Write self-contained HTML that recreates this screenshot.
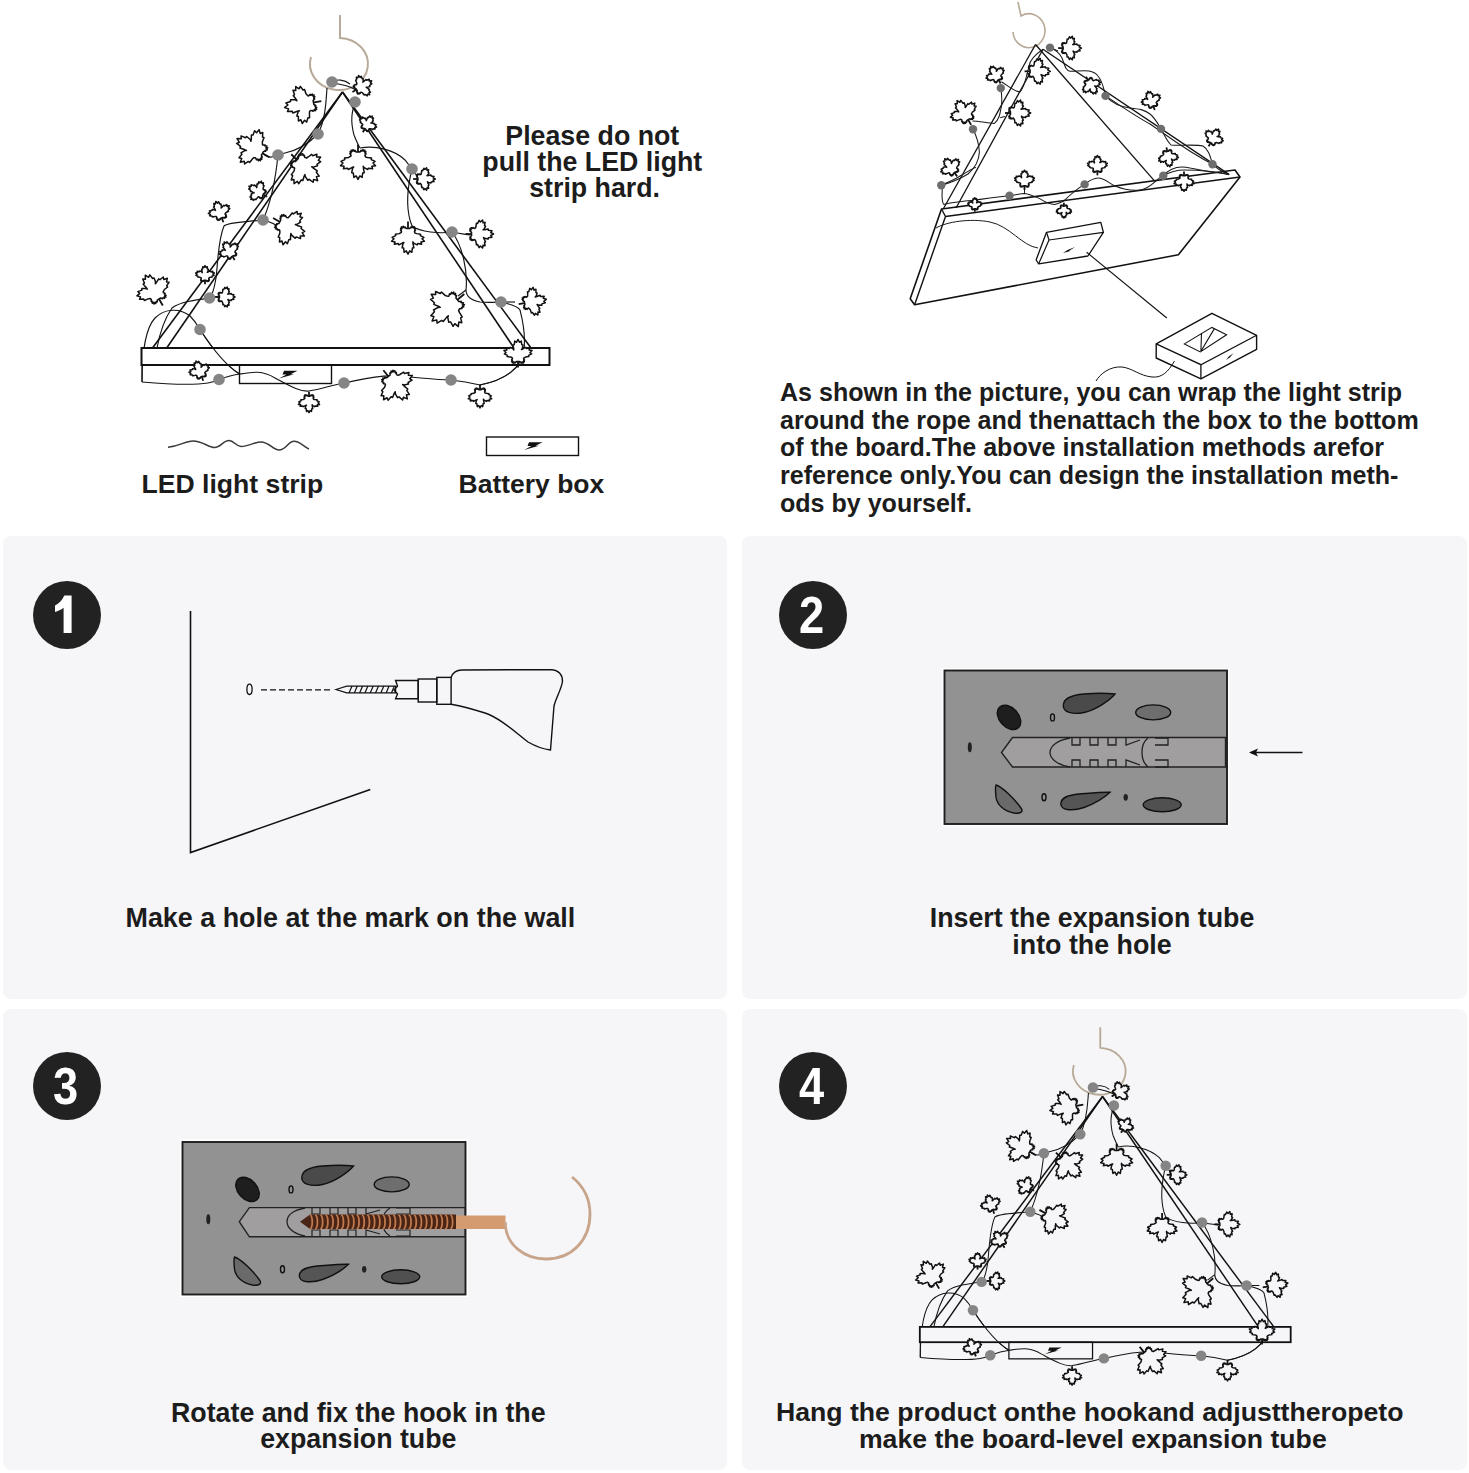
<!DOCTYPE html>
<html><head><meta charset="utf-8"><style>
html,body{margin:0;padding:0;width:1469px;height:1473px;background:#fff;overflow:hidden;font-family:"Liberation Sans",sans-serif;}
.panel{position:absolute;background:#f6f6f8;border-radius:8px;}
.num{position:absolute;width:68px;height:68px;border-radius:50%;background:#222;color:#fff;font-weight:bold;font-size:52px;text-align:center;line-height:68px;}
.t{position:absolute;font-weight:bold;color:#1c1c1c;white-space:nowrap;}
.c{text-align:center;width:800px;}
svg{position:absolute;left:0;top:0;}
</style></head>
<body>
<div class="panel" style="left:3px;top:536px;width:724px;height:463px"></div>
<div class="panel" style="left:742px;top:536px;width:725px;height:463px"></div>
<div class="panel" style="left:3px;top:1009px;width:724px;height:461px"></div>
<div class="panel" style="left:742px;top:1009px;width:725px;height:461px"></div>
<svg width="1469" height="1473" viewBox="0 0 1469 1473">
<defs><g id="lf"><path d="M0,0.25 L0,0.8" stroke="#111" stroke-width="1.8" vector-effect="non-scaling-stroke"/><path d="M-0.270,-0.322 L-0.279,-0.427 L-0.323,-0.650 L-0.242,-0.666 L-0.210,-0.897 L-0.095,-0.818 L0.000,-1.000 L0.095,-0.818 L0.210,-0.897 L0.242,-0.666 L0.323,-0.650 L0.279,-0.427 L0.223,-0.356 L0.313,-0.389 L0.500,-0.489 L0.536,-0.419 L0.751,-0.455 L0.714,-0.327 L0.904,-0.294 L0.770,-0.155 L0.875,-0.073 L0.680,0.024 L0.692,0.102 L0.481,0.131 L0.367,0.204 L0.354,0.233 L0.415,0.322 L0.366,0.329 L0.409,0.429 L0.337,0.412 L0.356,0.508 L0.272,0.457 L0.264,0.531 L0.184,0.456 L0.161,0.500 L0.098,0.412 L-0.066,0.415 L-0.098,0.412 L-0.161,0.500 L-0.184,0.456 L-0.264,0.531 L-0.272,0.457 L-0.356,0.508 L-0.337,0.412 L-0.409,0.429 L-0.366,0.329 L-0.415,0.322 L-0.354,0.233 L-0.389,0.157 L-0.481,0.131 L-0.692,0.102 L-0.680,0.024 L-0.875,-0.073 L-0.770,-0.155 L-0.904,-0.294 L-0.714,-0.327 L-0.751,-0.455 L-0.536,-0.419 L-0.500,-0.489 L-0.313,-0.389Z" stroke="#111" stroke-width="1.5" vector-effect="non-scaling-stroke" stroke-linejoin="round"/></g></defs>
<g fill="#fff"><path d="M340,15 L340,38 A29,26 0 1 1 311,57" fill="none" stroke="#b8aa98" stroke-width="2"/>
<path d="M332,83 C340,84 350,86 356,90" fill="none" stroke="#151515" stroke-width="1.15"/>
<path d="M327,88 C326,100 326,118 318,134" fill="none" stroke="#151515" stroke-width="1.15"/>
<path d="M318,134 C310,142 300,150 285,153 L278,155" fill="none" stroke="#151515" stroke-width="1.15"/>
<path d="M278,155 C272,158 266,158 262,152" fill="none" stroke="#151515" stroke-width="1.15"/>
<path d="M278,155 C276,175 272,200 263,220" fill="none" stroke="#151515" stroke-width="1.15"/>
<path d="M263,220 C270,222 276,224 280,228" fill="none" stroke="#151515" stroke-width="1.15"/>
<path d="M263,220 C245,222 228,222 224,226 C218,240 218,262 216,278 C214,290 212,296 209.5,298" fill="none" stroke="#151515" stroke-width="1.15"/>
<path d="M209.5,298 C195,300 180,302 172,308 C165,318 160,332 157,348" fill="none" stroke="#151515" stroke-width="1.15"/>
<path d="M209.5,298 C214,297 217,296 219,297" fill="none" stroke="#151515" stroke-width="1.15"/>
<path d="M142,382 C142,360 144,330 155,318 C165,308 180,308 190,316 C196,322 198,326 200,329.5 C210,345 225,365 239.5,374" fill="none" stroke="#151515" stroke-width="1.15"/>
<path d="M142,382 C165,384 195,385 208,383 C214,382 216,381 219,379.5 C226,377 233,375 240,374 C252,372 262,370 275,378 C290,386 300,392 309,391 C322,389 332,385 344,383 C360,380 375,375 395,376 C415,377 435,380 451,380 C462,381 472,383 480,385 C505,380 522,368 524,350 C526,332 522,318 520,310 C518,306 510,304 501,302" fill="none" stroke="#151515" stroke-width="1.15"/>
<path d="M355,102 C352,112 350,120 354,135 C356,140 358,145 360,148" fill="none" stroke="#151515" stroke-width="1.15"/>
<path d="M360,148 C375,145 395,150 405,160 L412,169" fill="none" stroke="#151515" stroke-width="1.15"/>
<path d="M412,169 C416,174 418,178 420,180" fill="none" stroke="#151515" stroke-width="1.15"/>
<path d="M412,169 C408,185 406,205 410,220 L412,226" fill="none" stroke="#151515" stroke-width="1.15"/>
<path d="M412,226 C420,232 440,234 452,232" fill="none" stroke="#151515" stroke-width="1.15"/>
<path d="M452,232 C460,234 466,234 470,235" fill="none" stroke="#151515" stroke-width="1.15"/>
<path d="M452,232 C462,245 468,270 466,290 C466,296 470,300 480,302 C490,303 496,302 501,302" fill="none" stroke="#151515" stroke-width="1.15"/>
<path d="M466,290 L458,296" fill="none" stroke="#151515" stroke-width="1.15"/>
<path d="M501,302 L515,302" fill="none" stroke="#151515" stroke-width="1.15"/>
<path d="M332,83 C336,78 345,80 350,84" fill="none" stroke="#151515" stroke-width="1.15"/>
<line x1="342.5" y1="92" x2="152.5" y2="348" stroke="#111" stroke-width="1.6"/>
<line x1="342.5" y1="92" x2="166.7" y2="348" stroke="#111" stroke-width="1.6"/>
<line x1="342.5" y1="92" x2="531" y2="348" stroke="#111" stroke-width="1.6"/>
<line x1="342.5" y1="92" x2="514" y2="348" stroke="#111" stroke-width="1.6"/>
<rect x="141.5" y="348" width="408" height="17" stroke="#111" stroke-width="2"/>
<rect x="239.5" y="365" width="92" height="18.5" fill="none" stroke="#111" stroke-width="1.4"/>
<path d="M284,370.8 L297.5,370.8 L290.5,374.3 L294,374.3 L279,378.5 L286.5,374.5 L282.5,374.5 Z" fill="#111"/>
<path d="M200,329.5 C210,345 225,365 239.5,374" fill="none" stroke="#151515" stroke-width="1.15"/>
<path d="M142,365 L142,382" fill="none" stroke="#151515" stroke-width="1.15"/>
<path d="M480,385 C505,380 522,368 524,350" fill="none" stroke="#151515" stroke-width="1.15"/>
<use href="#lf" transform="translate(361.0,87.0) rotate(60) scale(12.32)"/>
<use href="#lf" transform="translate(305.0,104.0) rotate(-100) scale(20.76)"/>
<use href="#lf" transform="translate(367.0,125.0) rotate(30) scale(10.38)"/>
<use href="#lf" transform="translate(255.0,149.0) rotate(-60) scale(20.76)"/>
<use href="#lf" transform="translate(303.0,166.0) rotate(135) scale(20.76)"/>
<use href="#lf" transform="translate(358.0,160.0) rotate(180) scale(19.46)"/>
<use href="#lf" transform="translate(423.0,179.0) rotate(90) scale(12.32)"/>
<use href="#lf" transform="translate(259.0,192.0) rotate(-60) scale(11.68)"/>
<use href="#lf" transform="translate(287.0,226.0) rotate(120) scale(20.11)"/>
<use href="#lf" transform="translate(220.0,213.0) rotate(-20) scale(12.32)"/>
<use href="#lf" transform="translate(230.0,252.0) rotate(-30) scale(11.68)"/>
<use href="#lf" transform="translate(205.0,276.0) rotate(0) scale(10.38)"/>
<use href="#lf" transform="translate(408.0,236.0) rotate(180) scale(18.16)"/>
<use href="#lf" transform="translate(478.0,234.0) rotate(90) scale(15.57)"/>
<use href="#lf" transform="translate(155.0,292.0) rotate(-30) scale(19.46)"/>
<use href="#lf" transform="translate(224.0,297.0) rotate(90) scale(11.03)"/>
<use href="#lf" transform="translate(450.0,306.0) rotate(-130) scale(23.35)"/>
<use href="#lf" transform="translate(531.0,302.0) rotate(80) scale(15.57)"/>
<use href="#lf" transform="translate(518.0,355.0) rotate(0) scale(15.57)"/>
<use href="#lf" transform="translate(200.0,372.0) rotate(-20) scale(11.68)"/>
<use href="#lf" transform="translate(309.0,401.0) rotate(180) scale(11.68)"/>
<use href="#lf" transform="translate(394.0,383.0) rotate(140) scale(20.76)"/>
<use href="#lf" transform="translate(480.0,395.0) rotate(180) scale(12.97)"/>
<circle cx="332.0" cy="82.0" r="5.8" fill="#858585"/>
<circle cx="355.0" cy="102.0" r="5.8" fill="#858585"/>
<circle cx="318.0" cy="134.0" r="5.8" fill="#858585"/>
<circle cx="278.0" cy="155.0" r="5.8" fill="#858585"/>
<circle cx="263.0" cy="220.0" r="5.8" fill="#858585"/>
<circle cx="209.5" cy="298.0" r="5.8" fill="#858585"/>
<circle cx="200.0" cy="329.5" r="5.8" fill="#858585"/>
<circle cx="219.0" cy="379.5" r="5.8" fill="#858585"/>
<circle cx="344.0" cy="383.0" r="5.8" fill="#858585"/>
<circle cx="451.0" cy="380.0" r="5.8" fill="#858585"/>
<circle cx="412.0" cy="169.0" r="5.8" fill="#858585"/>
<circle cx="452.0" cy="232.0" r="5.8" fill="#858585"/>
<circle cx="501.0" cy="302.0" r="5.8" fill="#858585"/></g>
<path d="M168,447.3 C180,446 185,441 193,441 C203,441 208,447.5 214.5,447.5 C221,447.5 223,440.5 229,440.5 C234,440.5 236,446.5 241,446.5 C248,446.5 255,442 261,442 C269,442 273,450 279,450 C286,450 288,441.3 294,441.3 C300,441.3 304,447 309,449" fill="none" stroke="#3a3a3a" stroke-width="1.5"/>
<rect x="486.5" y="437" width="92" height="18.5" fill="#fff" stroke="#111" stroke-width="1.4"/>
<path d="M529,442.3 L542.5,442.3 L535.5,445.8 L539,445.8 L524,450 L531.5,446 L527.5,446 Z" fill="#111"/>
<g fill="#fff"><path d="M1018,2 L1021,16 A16,17 0 1 1 1013,32" fill="none" stroke="#b8aa98" stroke-width="1.6"/>
<path d="M941.5,209 L1235,170 L1240,177 L1178.4,254.8 L914.6,304.7 L910.2,298.7 Z" fill="#fff" stroke="#111" stroke-width="1.6" stroke-linejoin="round"/>
<path d="M945.5,216.5 L1240,177 M945.5,216.5 L914.6,304.7 M941.5,209 L945.5,216.5" fill="none" stroke="#111" stroke-width="1.4"/>
<path d="M936,228 C946,222 970,218 990,222 C1010,226 1022,246 1038,248" fill="none" stroke="#1a1a1a" stroke-width="1"/>
<path d="M1046.5,232.3 L1100.8,222.4 L1103.4,232.3 L1087.9,256 L1038.7,263.8 L1036.1,260 Z" fill="#fff" stroke="#111" stroke-width="1.3" stroke-linejoin="round"/>
<path d="M1049,240 L1103.4,232.3 M1049,240 L1038.7,263.8 M1046.5,232.3 L1049,240" fill="none" stroke="#111" stroke-width="1.2"/>
<path d="M1063,253 L1069,249 L1067.5,250 L1075,247 L1069,251 L1070.5,251 Z" fill="#111"/>
<line x1="1086.6" y1="252.2" x2="1166.8" y2="318" stroke="#111" stroke-width="1.1"/>
<path d="M1156.2,343.9 L1211.9,313.3 L1256.6,335.3 L1256.6,349.4 L1200.9,378.8 L1156.2,358 Z" fill="#fff" stroke="#111" stroke-width="1.4" stroke-linejoin="round"/>
<path d="M1156.2,343.9 L1200.9,364.7 L1256.6,335.3 M1200.9,364.7 L1200.9,378.8" fill="none" stroke="#111" stroke-width="1.3"/>
<path d="M1184.4,343.9 L1211.9,327.4 L1226.6,334.7 L1200.3,351.9 Z M1201.5,332.9 L1200.9,351.3 L1214.4,328.6" fill="none" stroke="#111" stroke-width="1.1"/>
<path d="M1226,360 L1230,355 L1229,356.5 L1233.5,353 L1229.5,358 L1230.5,357 Z" fill="#111"/>
<path d="M1174.5,361 C1168,372 1162,378 1152,377 C1140,376 1132,368 1122,367 C1110,366 1100,374 1096,381" fill="none" stroke="#111" stroke-width="1"/>
<line x1="1035.5" y1="44.5" x2="943.2" y2="209" stroke="#111" stroke-width="1.3"/>
<line x1="1043" y1="49.3" x2="956" y2="208" stroke="#111" stroke-width="1.3"/>
<line x1="1035.5" y1="44.5" x2="1154" y2="180.4" stroke="#111" stroke-width="1.3"/>
<line x1="1043" y1="49.3" x2="1229.3" y2="174.6" stroke="#111" stroke-width="1.3"/>
<path d="M1050,47.6 C1056,50 1060,54 1062,58 C1065,66 1066,71 1070,71.3 C1080,71.5 1092,68 1098,76 C1103,82 1104,90 1105.5,95.9" fill="none" stroke="#1a1a1a" stroke-width="1.05"/>
<path d="M1050,47.6 L1058,51" fill="none" stroke="#1a1a1a" stroke-width="1.05"/>
<path d="M1105.5,95.9 C1112,103 1120,107 1130,108 C1140,109 1145,110 1150,114 C1155,118 1158,124 1161,128.9 C1164,134 1166,140 1171,145 C1180,146 1195,144 1203,146 C1208,149 1210,155 1212.5,164.2 C1216,168 1220,171 1229,174.6" fill="none" stroke="#1a1a1a" stroke-width="1.05"/>
<path d="M1105.5,95.9 C1118,104 1135,116 1150,124 C1165,134 1185,150 1212.5,164.2" fill="none" stroke="#1a1a1a" stroke-width="1.05"/>
<path d="M1084.6,184.4 C1090,180 1094,178 1098,178 C1105,178 1110,184 1115,186 C1125,190 1132,191 1140,190 C1148,189 1152,184 1156,181 C1159,178 1161,176.5 1163.3,175.7 C1168,173 1174,170 1184,170 C1200,170 1218,172 1229,174.6" fill="none" stroke="#1a1a1a" stroke-width="1.05"/>
<path d="M1163.3,175.7 C1170,168 1178,165 1190,168 C1205,171 1220,173 1229,174.6" fill="none" stroke="#1a1a1a" stroke-width="1.05"/>
<path d="M1043,49.3 C1036,54 1030,60 1029,66 C1027,75 1024,88 1020,92 C1015,92 1008,86 1001.4,81.7" fill="none" stroke="#1a1a1a" stroke-width="1.05"/>
<path d="M1036,71.3 L1026.3,74.2" fill="none" stroke="#1a1a1a" stroke-width="1.05"/>
<path d="M1000.8,88.1 C1002,96 1002,102 1001.4,106 C1000,114 999,120 994.4,123.4 C988,123 978,121 972.4,121" fill="none" stroke="#1a1a1a" stroke-width="1.05"/>
<path d="M1004.9,116.4 C1001,117 1000,118 1000,118" fill="none" stroke="#1a1a1a" stroke-width="1.05"/>
<path d="M973,129.2 C976,135 979,143 979.4,152.3 C979,160 975,168 968,174 C958,180 950,183 941.3,185.2" fill="none" stroke="#1a1a1a" stroke-width="1.05"/>
<path d="M941.3,185.2 C944,188 940,196 943.5,204.4" fill="none" stroke="#1a1a1a" stroke-width="1.05"/>
<path d="M943.5,204.4 C955,202 965,201 973.6,200.3 C990,198 1000,196.5 1009.5,195.7 C1016,195 1020,193.5 1024.5,193.4 C1030,194 1034,196 1039.6,198.6 C1045,202 1050,204.4 1054.6,204.4 C1058,204 1061,202 1063.9,200.9 C1070,195 1078,188 1084.6,184.4" fill="none" stroke="#1a1a1a" stroke-width="1.05"/>
<path d="M941.3,185.2 C948,182 954,180 960,176 C968,172 972,168 976,167.4" fill="none" stroke="#1a1a1a" stroke-width="1.05"/>
<path d="M1024.5,193.4 L1024.5,186" fill="none" stroke="#1a1a1a" stroke-width="1.05"/>
<use href="#lf" transform="translate(1068.5,48.1) rotate(90) scale(12.97)"/>
<use href="#lf" transform="translate(996.2,75.9) rotate(-30) scale(11.03)"/>
<use href="#lf" transform="translate(1036.0,71.3) rotate(90) scale(14.27)"/>
<use href="#lf" transform="translate(964.9,114.1) rotate(-30) scale(15.57)"/>
<use href="#lf" transform="translate(1016.4,113.0) rotate(90) scale(14.27)"/>
<use href="#lf" transform="translate(951.6,168.5) rotate(-35) scale(12.00)"/>
<use href="#lf" transform="translate(1024.5,181.2) rotate(0) scale(11.03)"/>
<use href="#lf" transform="translate(1097.4,166.5) rotate(0) scale(11.03)"/>
<use href="#lf" transform="translate(1151.7,101.7) rotate(-20) scale(11.03)"/>
<use href="#lf" transform="translate(1090.4,84.3) rotate(150) scale(11.03)"/>
<use href="#lf" transform="translate(1168.0,156.0) rotate(170) scale(11.03)"/>
<use href="#lf" transform="translate(1213.0,138.7) rotate(30) scale(11.03)"/>
<use href="#lf" transform="translate(1184.0,180.4) rotate(180) scale(11.03)"/>
<use href="#lf" transform="translate(1063.9,209.6) rotate(180) scale(8.43)"/>
<use href="#lf" transform="translate(974.8,205.5) rotate(0) scale(7.78)"/>
<circle cx="1050.0" cy="47.6" r="4.2" fill="#6e6e6e"/>
<circle cx="1000.8" cy="88.1" r="4.2" fill="#6e6e6e"/>
<circle cx="973.0" cy="129.2" r="4.2" fill="#6e6e6e"/>
<circle cx="941.3" cy="185.2" r="4.2" fill="#6e6e6e"/>
<circle cx="1009.5" cy="195.7" r="4.2" fill="#6e6e6e"/>
<circle cx="1084.6" cy="184.4" r="4.2" fill="#6e6e6e"/>
<circle cx="1105.5" cy="95.9" r="4.2" fill="#6e6e6e"/>
<circle cx="1161.0" cy="128.9" r="4.2" fill="#6e6e6e"/>
<circle cx="1212.5" cy="164.2" r="4.2" fill="#6e6e6e"/>
<circle cx="1163.3" cy="175.7" r="4.2" fill="#6e6e6e"/></g>
<path d="M190.5,611 L190.5,852.5 L370.3,789.5" fill="none" stroke="#111" stroke-width="1.6"/>
<ellipse cx="249.5" cy="689.3" rx="2.6" ry="5.2" fill="none" stroke="#111" stroke-width="1.3"/>
<line x1="261" y1="689.8" x2="332" y2="689.8" stroke="#111" stroke-width="1.3" stroke-dasharray="6,3"/>
<path d="M336,689.5 L346.7,686.2 L395.6,686.2 L395.6,692.9 L346.7,692.9 Z" fill="none" stroke="#111" stroke-width="1.2"/>
<line x1="349.0" y1="693" x2="352.0" y2="686" stroke="#111" stroke-width="1.2"/>
<line x1="354.3" y1="693" x2="357.3" y2="686" stroke="#111" stroke-width="1.2"/>
<line x1="359.6" y1="693" x2="362.6" y2="686" stroke="#111" stroke-width="1.2"/>
<line x1="364.9" y1="693" x2="367.9" y2="686" stroke="#111" stroke-width="1.2"/>
<line x1="370.2" y1="693" x2="373.2" y2="686" stroke="#111" stroke-width="1.2"/>
<line x1="375.5" y1="693" x2="378.5" y2="686" stroke="#111" stroke-width="1.2"/>
<line x1="380.8" y1="693" x2="383.8" y2="686" stroke="#111" stroke-width="1.2"/>
<line x1="386.1" y1="693" x2="389.1" y2="686" stroke="#111" stroke-width="1.2"/>
<line x1="391.4" y1="693" x2="394.4" y2="686" stroke="#111" stroke-width="1.2"/>
<path d="M395.6,680.5 L418.2,680.5 L418.2,698.8 L395.6,698.8 L397.5,694 L394,690 L397.5,686 Z" fill="none" stroke="#111" stroke-width="1.4"/>
<rect x="418.2" y="679" width="18.6" height="23" fill="none" stroke="#111" stroke-width="1.4"/>
<rect x="436.8" y="677.4" width="14.3" height="26.9" fill="none" stroke="#111" stroke-width="1.4"/>
<path d="M451.1,677.4 C453,672 456,670 462,670 L551,669.6 C558,670 563,674 562.4,682 C561,690 556,698 554,706 L550.5,750 C542,749 535,746 528,742 C515,732 500,718 485,713 C472,709 460,706 451.1,704.3" fill="none" stroke="#111" stroke-width="1.4"/>
<rect x="944.5" y="670.5" width="282.5" height="153.5" fill="none" stroke="#fff" stroke-width="5"/>
<rect x="944.5" y="670.5" width="282.5" height="153.5" fill="#939292" stroke="#1e1e1e" stroke-width="1.9"/>
<g transform="translate(944,670)">
<ellipse cx="65" cy="47.4" rx="14" ry="9.5" transform="rotate(48 65 47.4)" fill="#1e1e1e" stroke="#111" stroke-width="1.4"/>
<path d="M119.3,36 C119,28 128,25 140,24 C152,23 162,23 171,24 C166,30 152,40 140,42.5 C128,45 119.5,42 119.3,36 Z" fill="#4a4a4a" stroke="#111" stroke-width="1.4"/>
<ellipse cx="209.2" cy="42.4" rx="17.5" ry="7.5" fill="#6e6e6e" stroke="#111" stroke-width="1.4"/>
<ellipse cx="108.5" cy="47.4" rx="2" ry="3.5" fill="none" stroke="#111" stroke-width="1.4"/>
<ellipse cx="25.8" cy="77.3" rx="2" ry="5" fill="#222"/>
<path d="M52,115 C58,117 70,128 77,138 C80,142 76,144 70,143 C60,141 53,135 52,127 C51.5,122 51,117 52,115 Z" fill="#6a6a6a" stroke="#111" stroke-width="1.4"/>
<ellipse cx="100" cy="127.3" rx="2" ry="3.5" fill="none" stroke="#111" stroke-width="1.4"/>
<path d="M116.8,134 C117,127 125,125 135,124 C148,123 158,122 166,122.3 C160,128 150,134 140,137.5 C130,141 117,141 116.8,134 Z" fill="#555" stroke="#111" stroke-width="1.4"/>
<ellipse cx="181.7" cy="127.3" rx="2.2" ry="3.4" fill="#222"/>
<ellipse cx="218.2" cy="134.8" rx="19" ry="7" fill="#505050" stroke="#111" stroke-width="1.4"/>
</g>
<path d="M1225.5,737.5 L1012.5,737.5 L1001.5,752.5 L1012.5,767 L1225.5,767 Z" fill="#a09e9e" stroke="#222" stroke-width="1.4"/>
<path d="M1070,738 C1058,740 1050,746 1050,752.5 C1050,759 1058,765 1070,767" fill="none" stroke="#222" stroke-width="1.3"/>
<path d="M1072,738 L1072,745 L1080,745 L1080,738 M1072,767 L1072,760 L1080,760 L1080,767" fill="none" stroke="#222" stroke-width="1.3"/>
<path d="M1090,738 L1090,745 L1098,745 L1098,738 M1090,767 L1090,760 L1098,760 L1098,767" fill="none" stroke="#222" stroke-width="1.3"/>
<path d="M1108,738 L1108,745 L1116,745 L1116,738 M1108,767 L1108,760 L1116,760 L1116,767" fill="none" stroke="#222" stroke-width="1.3"/>
<path d="M1126,738 L1126,745 L1140,740 M1126,767 L1126,760 L1140,765 M1148,738 C1140,744 1140,760 1148,767 M1155,738 L1168,738 L1168,745 L1155,745 M1155,767 L1168,767 L1168,760 L1155,760" fill="none" stroke="#222" stroke-width="1.3"/>
<line x1="1251" y1="752.5" x2="1302.5" y2="752.5" stroke="#111" stroke-width="1.3"/>
<path d="M1249,752.5 L1258,748.5 L1256,752.5 L1258,756.5 Z" fill="#111"/>
<rect x="182.5" y="1142" width="283" height="152.5" fill="none" stroke="#fff" stroke-width="5"/>
<rect x="182.5" y="1142" width="283" height="152.5" fill="#939292" stroke="#1e1e1e" stroke-width="1.9"/>
<g transform="translate(182.5,1142)">
<ellipse cx="65" cy="47.4" rx="14" ry="9.5" transform="rotate(48 65 47.4)" fill="#1e1e1e" stroke="#111" stroke-width="1.4"/>
<path d="M119.3,36 C119,28 128,25 140,24 C152,23 162,23 171,24 C166,30 152,40 140,42.5 C128,45 119.5,42 119.3,36 Z" fill="#4a4a4a" stroke="#111" stroke-width="1.4"/>
<ellipse cx="209.2" cy="42.4" rx="17.5" ry="7.5" fill="#6e6e6e" stroke="#111" stroke-width="1.4"/>
<ellipse cx="108.5" cy="47.4" rx="2" ry="3.5" fill="none" stroke="#111" stroke-width="1.4"/>
<ellipse cx="25.8" cy="77.3" rx="2" ry="5" fill="#222"/>
<path d="M52,115 C58,117 70,128 77,138 C80,142 76,144 70,143 C60,141 53,135 52,127 C51.5,122 51,117 52,115 Z" fill="#6a6a6a" stroke="#111" stroke-width="1.4"/>
<ellipse cx="100" cy="127.3" rx="2" ry="3.5" fill="none" stroke="#111" stroke-width="1.4"/>
<path d="M116.8,134 C117,127 125,125 135,124 C148,123 158,122 166,122.3 C160,128 150,134 140,137.5 C130,141 117,141 116.8,134 Z" fill="#555" stroke="#111" stroke-width="1.4"/>
<ellipse cx="181.7" cy="127.3" rx="2.2" ry="3.4" fill="#222"/>
<ellipse cx="218.2" cy="134.8" rx="19" ry="7" fill="#505050" stroke="#111" stroke-width="1.4"/>
</g>
<path d="M465,1207.6 L249.4,1207.6 L239.3,1221.7 L249.4,1236.8 L465,1236.8 Z" fill="#a09e9e" stroke="#222" stroke-width="1.4"/>
<path d="M305,1208 C294,1210 287,1215 287,1221.7 C287,1228 294,1234 305,1236" fill="none" stroke="#222" stroke-width="1.3"/>
<path d="M312,1208 L312,1214 L320,1214 L320,1208 M312,1236 L312,1230 L320,1230 L320,1236" fill="none" stroke="#222" stroke-width="1.2"/>
<path d="M330,1208 L330,1214 L338,1214 L338,1208 M330,1236 L330,1230 L338,1230 L338,1236" fill="none" stroke="#222" stroke-width="1.2"/>
<path d="M348,1208 L348,1214 L356,1214 L356,1208 M348,1236 L348,1230 L356,1230 L356,1236" fill="none" stroke="#222" stroke-width="1.2"/>
<path d="M366,1208 L366,1214 L380,1210 M366,1236 L366,1230 L380,1234 M390,1208 C380,1214 380,1230 390,1236 M396,1208 L410,1208 L410,1214 L396,1214 M396,1236 L410,1236 L410,1230 L396,1230" fill="none" stroke="#222" stroke-width="1.2"/>
<path d="M300,1221.7 L310,1214.5 L456,1214.5 L456,1229 L310,1229 Z" fill="#4a2414"/>
<path d="M310.0,1215 C313.0,1216 313.0,1228 310.0,1229" fill="none" stroke="#c07a50" stroke-width="1.8"/>
<path d="M315.2,1215 C318.2,1216 318.2,1228 315.2,1229" fill="none" stroke="#c07a50" stroke-width="1.8"/>
<path d="M320.4,1215 C323.4,1216 323.4,1228 320.4,1229" fill="none" stroke="#c07a50" stroke-width="1.8"/>
<path d="M325.6,1215 C328.6,1216 328.6,1228 325.6,1229" fill="none" stroke="#c07a50" stroke-width="1.8"/>
<path d="M330.8,1215 C333.8,1216 333.8,1228 330.8,1229" fill="none" stroke="#c07a50" stroke-width="1.8"/>
<path d="M336.0,1215 C339.0,1216 339.0,1228 336.0,1229" fill="none" stroke="#c07a50" stroke-width="1.8"/>
<path d="M341.2,1215 C344.2,1216 344.2,1228 341.2,1229" fill="none" stroke="#c07a50" stroke-width="1.8"/>
<path d="M346.4,1215 C349.4,1216 349.4,1228 346.4,1229" fill="none" stroke="#c07a50" stroke-width="1.8"/>
<path d="M351.6,1215 C354.6,1216 354.6,1228 351.6,1229" fill="none" stroke="#c07a50" stroke-width="1.8"/>
<path d="M356.8,1215 C359.8,1216 359.8,1228 356.8,1229" fill="none" stroke="#c07a50" stroke-width="1.8"/>
<path d="M362.0,1215 C365.0,1216 365.0,1228 362.0,1229" fill="none" stroke="#c07a50" stroke-width="1.8"/>
<path d="M367.2,1215 C370.2,1216 370.2,1228 367.2,1229" fill="none" stroke="#c07a50" stroke-width="1.8"/>
<path d="M372.4,1215 C375.4,1216 375.4,1228 372.4,1229" fill="none" stroke="#c07a50" stroke-width="1.8"/>
<path d="M377.6,1215 C380.6,1216 380.6,1228 377.6,1229" fill="none" stroke="#c07a50" stroke-width="1.8"/>
<path d="M382.8,1215 C385.8,1216 385.8,1228 382.8,1229" fill="none" stroke="#c07a50" stroke-width="1.8"/>
<path d="M388.0,1215 C391.0,1216 391.0,1228 388.0,1229" fill="none" stroke="#c07a50" stroke-width="1.8"/>
<path d="M393.2,1215 C396.2,1216 396.2,1228 393.2,1229" fill="none" stroke="#c07a50" stroke-width="1.8"/>
<path d="M398.4,1215 C401.4,1216 401.4,1228 398.4,1229" fill="none" stroke="#c07a50" stroke-width="1.8"/>
<path d="M403.6,1215 C406.6,1216 406.6,1228 403.6,1229" fill="none" stroke="#c07a50" stroke-width="1.8"/>
<path d="M408.8,1215 C411.8,1216 411.8,1228 408.8,1229" fill="none" stroke="#c07a50" stroke-width="1.8"/>
<path d="M414.0,1215 C417.0,1216 417.0,1228 414.0,1229" fill="none" stroke="#c07a50" stroke-width="1.8"/>
<path d="M419.2,1215 C422.2,1216 422.2,1228 419.2,1229" fill="none" stroke="#c07a50" stroke-width="1.8"/>
<path d="M424.4,1215 C427.4,1216 427.4,1228 424.4,1229" fill="none" stroke="#c07a50" stroke-width="1.8"/>
<path d="M429.6,1215 C432.6,1216 432.6,1228 429.6,1229" fill="none" stroke="#c07a50" stroke-width="1.8"/>
<path d="M434.8,1215 C437.8,1216 437.8,1228 434.8,1229" fill="none" stroke="#c07a50" stroke-width="1.8"/>
<path d="M440.0,1215 C443.0,1216 443.0,1228 440.0,1229" fill="none" stroke="#c07a50" stroke-width="1.8"/>
<path d="M445.2,1215 C448.2,1216 448.2,1228 445.2,1229" fill="none" stroke="#c07a50" stroke-width="1.8"/>
<path d="M450.4,1215 C453.4,1216 453.4,1228 450.4,1229" fill="none" stroke="#c07a50" stroke-width="1.8"/>
<rect x="456" y="1215.5" width="49.5" height="13.5" fill="#d49a70"/>
<path d="M505.3,1222 C505,1245 525,1259 546,1259 C572,1259 590,1240 590,1214 C590,1197 582,1185 572,1177" fill="none" stroke="#c8a48a" stroke-width="2.8"/>
<g fill="#f6f6f8" transform="translate(791.2,1013.7) scale(0.909,0.9)"><path d="M340,15 L340,38 A29,26 0 1 1 311,57" fill="none" stroke="#b8aa98" stroke-width="2"/>
<path d="M332,83 C340,84 350,86 356,90" fill="none" stroke="#151515" stroke-width="1.15"/>
<path d="M327,88 C326,100 326,118 318,134" fill="none" stroke="#151515" stroke-width="1.15"/>
<path d="M318,134 C310,142 300,150 285,153 L278,155" fill="none" stroke="#151515" stroke-width="1.15"/>
<path d="M278,155 C272,158 266,158 262,152" fill="none" stroke="#151515" stroke-width="1.15"/>
<path d="M278,155 C276,175 272,200 263,220" fill="none" stroke="#151515" stroke-width="1.15"/>
<path d="M263,220 C270,222 276,224 280,228" fill="none" stroke="#151515" stroke-width="1.15"/>
<path d="M263,220 C245,222 228,222 224,226 C218,240 218,262 216,278 C214,290 212,296 209.5,298" fill="none" stroke="#151515" stroke-width="1.15"/>
<path d="M209.5,298 C195,300 180,302 172,308 C165,318 160,332 157,348" fill="none" stroke="#151515" stroke-width="1.15"/>
<path d="M209.5,298 C214,297 217,296 219,297" fill="none" stroke="#151515" stroke-width="1.15"/>
<path d="M142,382 C142,360 144,330 155,318 C165,308 180,308 190,316 C196,322 198,326 200,329.5 C210,345 225,365 239.5,374" fill="none" stroke="#151515" stroke-width="1.15"/>
<path d="M142,382 C165,384 195,385 208,383 C214,382 216,381 219,379.5 C226,377 233,375 240,374 C252,372 262,370 275,378 C290,386 300,392 309,391 C322,389 332,385 344,383 C360,380 375,375 395,376 C415,377 435,380 451,380 C462,381 472,383 480,385 C505,380 522,368 524,350 C526,332 522,318 520,310 C518,306 510,304 501,302" fill="none" stroke="#151515" stroke-width="1.15"/>
<path d="M355,102 C352,112 350,120 354,135 C356,140 358,145 360,148" fill="none" stroke="#151515" stroke-width="1.15"/>
<path d="M360,148 C375,145 395,150 405,160 L412,169" fill="none" stroke="#151515" stroke-width="1.15"/>
<path d="M412,169 C416,174 418,178 420,180" fill="none" stroke="#151515" stroke-width="1.15"/>
<path d="M412,169 C408,185 406,205 410,220 L412,226" fill="none" stroke="#151515" stroke-width="1.15"/>
<path d="M412,226 C420,232 440,234 452,232" fill="none" stroke="#151515" stroke-width="1.15"/>
<path d="M452,232 C460,234 466,234 470,235" fill="none" stroke="#151515" stroke-width="1.15"/>
<path d="M452,232 C462,245 468,270 466,290 C466,296 470,300 480,302 C490,303 496,302 501,302" fill="none" stroke="#151515" stroke-width="1.15"/>
<path d="M466,290 L458,296" fill="none" stroke="#151515" stroke-width="1.15"/>
<path d="M501,302 L515,302" fill="none" stroke="#151515" stroke-width="1.15"/>
<path d="M332,83 C336,78 345,80 350,84" fill="none" stroke="#151515" stroke-width="1.15"/>
<line x1="342.5" y1="92" x2="152.5" y2="348" stroke="#111" stroke-width="1.6"/>
<line x1="342.5" y1="92" x2="166.7" y2="348" stroke="#111" stroke-width="1.6"/>
<line x1="342.5" y1="92" x2="531" y2="348" stroke="#111" stroke-width="1.6"/>
<line x1="342.5" y1="92" x2="514" y2="348" stroke="#111" stroke-width="1.6"/>
<rect x="141.5" y="348" width="408" height="17" stroke="#111" stroke-width="2"/>
<rect x="239.5" y="365" width="92" height="18.5" fill="none" stroke="#111" stroke-width="1.4"/>
<path d="M284,370.8 L297.5,370.8 L290.5,374.3 L294,374.3 L279,378.5 L286.5,374.5 L282.5,374.5 Z" fill="#111"/>
<path d="M200,329.5 C210,345 225,365 239.5,374" fill="none" stroke="#151515" stroke-width="1.15"/>
<path d="M142,365 L142,382" fill="none" stroke="#151515" stroke-width="1.15"/>
<path d="M480,385 C505,380 522,368 524,350" fill="none" stroke="#151515" stroke-width="1.15"/>
<use href="#lf" transform="translate(361.0,87.0) rotate(60) scale(12.32)"/>
<use href="#lf" transform="translate(305.0,104.0) rotate(-100) scale(20.76)"/>
<use href="#lf" transform="translate(367.0,125.0) rotate(30) scale(10.38)"/>
<use href="#lf" transform="translate(255.0,149.0) rotate(-60) scale(20.76)"/>
<use href="#lf" transform="translate(303.0,166.0) rotate(135) scale(20.76)"/>
<use href="#lf" transform="translate(358.0,160.0) rotate(180) scale(19.46)"/>
<use href="#lf" transform="translate(423.0,179.0) rotate(90) scale(12.32)"/>
<use href="#lf" transform="translate(259.0,192.0) rotate(-60) scale(11.68)"/>
<use href="#lf" transform="translate(287.0,226.0) rotate(120) scale(20.11)"/>
<use href="#lf" transform="translate(220.0,213.0) rotate(-20) scale(12.32)"/>
<use href="#lf" transform="translate(230.0,252.0) rotate(-30) scale(11.68)"/>
<use href="#lf" transform="translate(205.0,276.0) rotate(0) scale(10.38)"/>
<use href="#lf" transform="translate(408.0,236.0) rotate(180) scale(18.16)"/>
<use href="#lf" transform="translate(478.0,234.0) rotate(90) scale(15.57)"/>
<use href="#lf" transform="translate(155.0,292.0) rotate(-30) scale(19.46)"/>
<use href="#lf" transform="translate(224.0,297.0) rotate(90) scale(11.03)"/>
<use href="#lf" transform="translate(450.0,306.0) rotate(-130) scale(23.35)"/>
<use href="#lf" transform="translate(531.0,302.0) rotate(80) scale(15.57)"/>
<use href="#lf" transform="translate(518.0,355.0) rotate(0) scale(15.57)"/>
<use href="#lf" transform="translate(200.0,372.0) rotate(-20) scale(11.68)"/>
<use href="#lf" transform="translate(309.0,401.0) rotate(180) scale(11.68)"/>
<use href="#lf" transform="translate(394.0,383.0) rotate(140) scale(20.76)"/>
<use href="#lf" transform="translate(480.0,395.0) rotate(180) scale(12.97)"/>
<circle cx="332.0" cy="82.0" r="5.8" fill="#858585"/>
<circle cx="355.0" cy="102.0" r="5.8" fill="#858585"/>
<circle cx="318.0" cy="134.0" r="5.8" fill="#858585"/>
<circle cx="278.0" cy="155.0" r="5.8" fill="#858585"/>
<circle cx="263.0" cy="220.0" r="5.8" fill="#858585"/>
<circle cx="209.5" cy="298.0" r="5.8" fill="#858585"/>
<circle cx="200.0" cy="329.5" r="5.8" fill="#858585"/>
<circle cx="219.0" cy="379.5" r="5.8" fill="#858585"/>
<circle cx="344.0" cy="383.0" r="5.8" fill="#858585"/>
<circle cx="451.0" cy="380.0" r="5.8" fill="#858585"/>
<circle cx="412.0" cy="169.0" r="5.8" fill="#858585"/>
<circle cx="452.0" cy="232.0" r="5.8" fill="#858585"/>
<circle cx="501.0" cy="302.0" r="5.8" fill="#858585"/></g>
</svg>
<div class="num" style="left:33px;top:581px"></div>
<div class="num" style="left:779px;top:581px"><span style="display:inline-block;position:relative;left:-1.8px;transform:scaleX(0.87)">2</span></div>
<div class="num" style="left:33px;top:1052px"><span style="display:inline-block;position:relative;left:-1.8px;transform:scaleX(0.87)">3</span></div>
<div class="num" style="left:779px;top:1052px"><span style="display:inline-block;position:relative;left:-1.8px;transform:scaleX(0.87)">4</span></div>
<svg width="1469" height="1473" style="position:absolute;left:0;top:0"><path d="M64.3,595.5 L71.6,595.5 L71.6,633 L63.6,633 L63.6,607.8 C61,609.8 58,611.2 55,612 L55,605.4 C59,603.8 62.3,600 64.3,595.5 Z" fill="#fff"/></svg>
<div class="t c" style="left:192.3px;top:120.7px;font-size:26.75px;line-height:30px">Please do not</div>
<div class="t c" style="left:192.3px;top:146.9px;font-size:26.75px;line-height:30px">pull the LED light</div>
<div class="t c" style="left:194.6px;top:173.3px;font-size:26.75px;line-height:30px">strip hard.</div>
<div class="t" style="left:141.5px;top:468.8px;font-size:26.6px;line-height:30px">LED light strip</div>
<div class="t" style="left:458.5px;top:468.8px;font-size:26.5px;line-height:30px">Battery box</div>
<div class="t" style="left:780.0px;top:378.8px;font-size:25.05px;line-height:27.75px">As shown in the picture, you can wrap the light strip<br>around the rope and thenattach the box to the bottom<br>of the board.The above installation methods arefor<br>reference only.You can design the installation meth-<br>ods by yourself.</div>
<div class="t c" style="left:-49.6px;top:902.7px;font-size:26.9px;line-height:30px">Make a hole at the mark on the wall</div>
<div class="t c" style="left:692.0px;top:904.7px;font-size:26.8px;line-height:27px">Insert the expansion tube<br>into the hole</div>
<div class="t c" style="left:-41.7px;top:1399.5px;font-size:26.75px;line-height:26.5px">Rotate and fix the hook in the<br>expansion tube</div>
<div class="t c" style="left:689.7px;top:1397.4px;font-size:26.65px;line-height:30px">Hang the product onthe hookand adjusttheropeto</div>
<div class="t c" style="left:692.8px;top:1424.2px;font-size:26.65px;line-height:30px">make the board-level expansion tube</div>
</body></html>
